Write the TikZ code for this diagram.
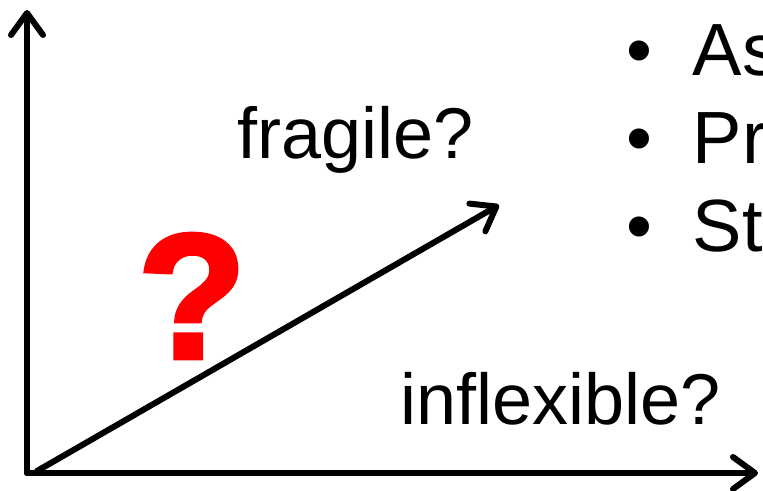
\documentclass[tikz,border=0pt]{standalone}
\usepackage{fontspec}
\setmainfont{Liberation Sans}
\newfontfamily\questfont[FakeBold=2.5]{Liberation Sans Bold}
\usetikzlibrary{arrows.meta}
\definecolor{AxisInk}{HTML}{000000}
\definecolor{QuestRed}{HTML}{FF0000}
\tikzset{
  axisarr/.style  = {-{Straight Barb[length=22pt, width=32pt, round]}, AxisInk, line width=6pt, line cap=round},
  biglbl/.style   = {font=\fontsize{72}{80}\selectfont, inner sep=0pt, anchor=base west, text=AxisInk},
  bulletlbl/.style= {font=\fontsize{74}{82}\selectfont, inner sep=0pt, anchor=base west, text=AxisInk},
  questmark/.style= {font=\fontsize{178}{178}\questfont, text=QuestRed, inner sep=0pt},
}

\begin{document}
\begin{tikzpicture}[x=1pt, y=-1pt]
    \useasboundingbox (0,0) rectangle (763,490);
    \clip (0,0) rectangle (763,490);
    \coordinate (origin) at (27,473);
    \coordinate (ytop) at (27,10);
    \coordinate (xend) at (758,473);
    \coordinate (dstart) at (37,471);
    \coordinate (dend) at (499,205);
    \draw[axisarr] (origin) -- (ytop);
    \draw[axisarr] (origin) -- (xend);
    \draw[axisarr] (dstart) -- (dend);
    \node[biglbl] (fragile) at (237,158) {fragile?};
    \node[biglbl] (inflex) at (400,424) {inflexible?};
    \node[questmark] (quest) at (192,296) {?};
    % bullet list, cut at the right edge
    \node[bulletlbl] (b1) at (626,75) {•\hspace{0.55em}As};
    \node[bulletlbl] (b2) at (626,163) {•\hspace{0.55em}Pr};
    \node[bulletlbl] (b3) at (626,251) {•\hspace{0.55em}St};
\end{tikzpicture}
\end{document}
